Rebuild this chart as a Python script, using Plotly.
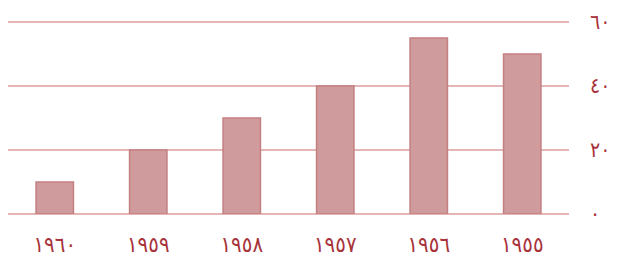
import plotly.graph_objects as go

categories = ["١٩٦٠", "١٩٥٩", "١٩٥٨", "١٩٥٧", "١٩٥٦", "١٩٥٥"]
values = [10, 20, 30, 40, 55, 50]
y_tickvals = [0, 20, 40, 60]
y_ticktext = ["٠", "٢٠", "٤٠", "٦٠"]

label_color = "#a8323a"
grid_color = "#e4b6b6"
font_family = "DejaVu Sans Condensed, DejaVu Sans"

fig = go.Figure(go.Bar(
    x=categories, y=values,
    marker=dict(color="#d09b9c", line=dict(color="#c47f81", width=1.5)),
))

fig.update_layout(
    width=611, height=260,
    margin=dict(l=0, r=50, t=11, b=54),
    plot_bgcolor="white", paper_bgcolor="white",
    bargap=0.6, showlegend=False,
    font=dict(family=font_family, color=label_color),
)
fig.update_xaxes(
    type="category", showgrid=False, showline=False, zeroline=False,
    tickfont=dict(size=22, color=label_color), ticks="", ticklabelstandoff=15,
    automargin=False,
)
fig.update_yaxes(
    side="right", range=[0, 60.94], tickvals=y_tickvals, ticktext=y_ticktext,
    showgrid=True, gridcolor=grid_color, gridwidth=2,
    zeroline=True, zerolinecolor=grid_color, zerolinewidth=2,
    showline=False, ticks="", ticklabelstandoff=20,
    tickfont=dict(size=21, color=label_color), automargin=False,
)

fig.write_html("out.html")
